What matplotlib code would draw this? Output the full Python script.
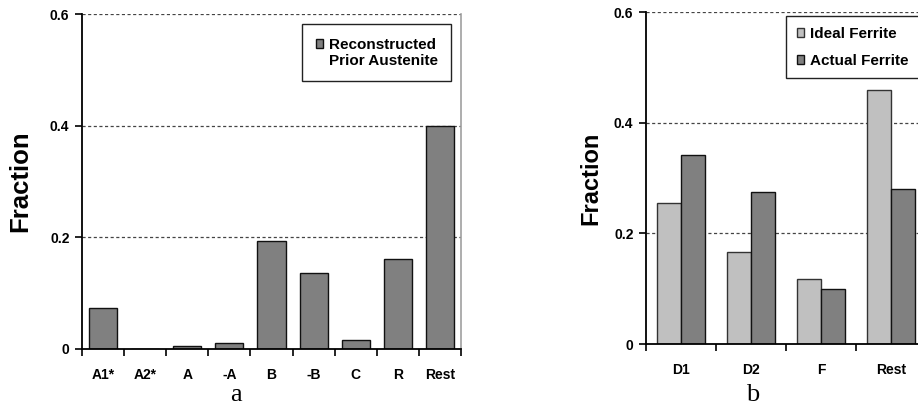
import matplotlib.pyplot as plt
import numpy as np
from matplotlib.patches import Patch

plt.rcParams['font.family'] = ['Liberation Sans', 'DejaVu Sans']
plt.rcParams['font.weight'] = 'bold'

# panel a
cats_a = ['A1*', 'A2*', 'A', '-A', 'B', '-B', 'C', 'R', 'Rest']
austenite = [0.073, 0.0, 0.006, 0.010, 0.194, 0.136, 0.016, 0.161, 0.400]

# panel b
cats_b = ['D1', 'D2', 'F', 'Rest']
ideal_ferrite = [0.255, 0.167, 0.118, 0.459]
actual_ferrite = [0.341, 0.275, 0.100, 0.281]

dark = '#808080'
light = '#c0c0c0'

fig = plt.figure(figsize=(9.18, 4.05), dpi=100)
ax1 = fig.add_axes([82/918, 1-349/405, 379/918, 335/405])
ax2 = fig.add_axes([646/918, 1-344/405, 280/918, 332/405])


def style(ax, n):
    ax.set_ylim(0, 0.6)
    ax.set_xlim(-0.5, n - 0.5)
    ax.set_yticks([0, 0.2, 0.4, 0.6])
    ax.set_yticklabels(['0', '0.2', '0.4', '0.6'])
    for y in [0.2, 0.4, 0.6]:
        ax.axhline(y, color='#444444', lw=0.9, ls=(0, (2.5, 2)), zorder=0)
    ax.spines['top'].set_visible(False)
    ax.spines['right'].set_color('#a0a0a0')
    ax.spines['right'].set_linewidth(1.2)
    ax.spines['left'].set_linewidth(1.3)
    ax.spines['bottom'].set_linewidth(1.3)
    ax.set_xticks(np.arange(n))
    ax.set_xticks(np.arange(n + 1) - 0.5, minor=True)
    ax.tick_params(axis='x', which='major', length=0, pad=14, labelsize=10)
    ax.tick_params(axis='x', which='minor', length=5, width=1.2, direction='out')
    ax.tick_params(axis='y', length=5, width=1.2, labelsize=10, pad=4)
    for lab in ax.get_xticklabels() + ax.get_yticklabels():
        lab.set_fontweight('bold')


# panel a
x = np.arange(len(cats_a))
b1 = ax1.bar(x, austenite, width=0.67, color=dark, edgecolor='#111111', lw=1, zorder=2)
style(ax1, len(cats_a))
ax1.set_xticklabels(cats_a)
ax1.set_ylabel('Fraction', fontsize=18.5, fontweight='bold')
ax1.yaxis.set_label_coords(-0.13, 0.5)
leg1 = fig.legend([b1, Patch(visible=False)], ['Reconstructed', 'Prior Austenite'],
                  loc='upper left', bbox_to_anchor=(302/918, 1-24/405),
                  borderaxespad=0, fancybox=False, edgecolor='#222222',
                  prop={'weight': 'bold', 'size': 11},
                  handlelength=0.5, handleheight=0.5, handletextpad=0.35,
                  labelspacing=0.12, borderpad=0.9, framealpha=1)
leg1.get_frame().set_linewidth(1)

# panel b
xb = np.arange(len(cats_b))
w = 0.343
h1 = ax2.bar(xb - w/2, ideal_ferrite, width=w, color=light, edgecolor='#333333', lw=1, zorder=2)
h2 = ax2.bar(xb + w/2, actual_ferrite, width=w, color=dark, edgecolor='#111111', lw=1, zorder=2)
style(ax2, len(cats_b))
ax2.set_xticklabels(cats_b)
ax2.set_ylabel('Fraction', fontsize=17, fontweight='bold')
ax2.yaxis.set_label_coords(-0.155, 0.5)
leg2 = fig.legend([h1, h2], ['Ideal Ferrite', 'Actual Ferrite'],
                  loc='upper left', bbox_to_anchor=(786/918, 1-16/405),
                  borderaxespad=0, fancybox=False, edgecolor='#222222',
                  prop={'weight': 'bold', 'size': 11},
                  handlelength=0.5, handleheight=0.5, handletextpad=0.35,
                  labelspacing=0.85, borderpad=0.7, framealpha=1)
leg2.get_frame().set_linewidth(1)

fig.text(236/918, 1-401/405, 'a', ha='center', va='baseline',
         family='Liberation Serif', fontweight='normal', fontsize=19)
fig.text(753/918, 1-401/405, 'b', ha='center', va='baseline',
         family='Liberation Serif', fontweight='normal', fontsize=19)

fig.savefig('out.png', dpi=100)
